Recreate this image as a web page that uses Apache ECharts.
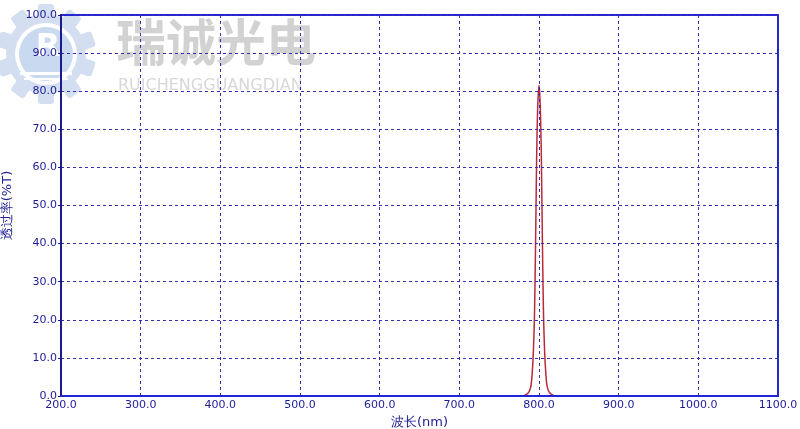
<!DOCTYPE html>
<html><head><meta charset="utf-8">
<script src="https://cdn.jsdelivr.net/npm/echarts@6/dist/echarts.min.js"></script>
<style>html,body{margin:0;padding:0;background:#fff}#c{width:800px;height:429px}</style>
</head><body><div id="c"></div>
<script>
var wavelengths = [200, 779, 783, 786, 788, 790, 791.5, 793, 794.3, 795.3, 796, 797, 798, 799, 800, 801, 802, 803, 804, 804.7, 805.7, 807, 808.5, 810, 812, 814, 817, 821, 1100];
var transmittance = [0, 0, 0.3, 0.7, 1.3, 2.8, 6, 12, 21, 34, 45, 62, 73, 79, 81.5, 79, 73, 62, 45, 34, 21, 12, 6, 2.8, 1.3, 0.7, 0.3, 0, 0];
var xTicks = [200, 300, 400, 500, 600, 700, 800, 900, 1000, 1100];
var yTicks = [0, 10, 20, 30, 40, 50, 60, 70, 80, 90, 100];
var xName = '波长(nm)';
var yName = '透过率(%T)';
var watermarkCN = '瑞诚光电';
var watermarkEN = 'RUICHENGGUANGDIAN';

var pts = wavelengths.map(function(w, i){ return [w, transmittance[i]]; });
var chart = echarts.init(document.getElementById('c'), null, {renderer: 'canvas'});
var labelColor = '#1c1c96';
var gridLine = {show: true, lineStyle: {color: '#3030b0', type: [3, 3], width: 1}};

var teeth = [];
for (var k = 0; k < 10; k++) {
  teeth.push({type: 'rect', shape: {x: -8, y: -50, width: 16, height: 16, r: 3},
    x: 46, y: 54, rotation: k * Math.PI / 5, style: {fill: '#d3def0'}, z: -10, silent: true});
}
var graphics = teeth.concat([
  {type: 'circle', shape: {cx: 46, cy: 54, r: 40}, style: {fill: '#d3def0'}, z: -10, silent: true},
  {type: 'circle', shape: {cx: 46, cy: 54, r: 31}, style: {fill: '#ffffff'}, z: -10, silent: true},
  {type: 'circle', shape: {cx: 46, cy: 54, r: 27}, style: {fill: '#c8d9f0'}, z: -10, silent: true},
  {type: 'text', x: 48, y: 48, style: {text: 'R', fill: '#ffffff', font: 'bold 32px "DejaVu Sans"', textAlign: 'center', textVerticalAlign: 'middle'}, z: -9, silent: true},
  {type: 'rect', shape: {x: 20, y: 72, width: 52, height: 3}, style: {fill: '#ffffff'}, z: -9, silent: true},
  {type: 'rect', shape: {x: 24, y: 78, width: 44, height: 2}, style: {fill: '#ffffff'}, z: -9, silent: true},
  {type: 'text', x: 116, y: 42, style: {text: watermarkCN, fill: '#d2d2d2', font: 'bold 50px "Noto Sans CJK SC"', textAlign: 'left', textVerticalAlign: 'middle'}, z: -9, silent: true},
  {type: 'text', x: 118, y: 86, style: {text: watermarkEN, fill: '#d8d8d8', font: '16px "DejaVu Sans"', textAlign: 'left', textVerticalAlign: 'middle'}, z: -9, silent: true}
]);

chart.setOption({
  animation: false,
  backgroundColor: '#ffffff',
  graphic: graphics,
  grid: {left: 61, right: 22, top: 15, bottom: 33, outerBoundsMode: 'none', containLabel: false,
    show: true, borderColor: '#2323d8', borderWidth: 2, backgroundColor: 'transparent', z: 3},
  xAxis: {
    type: 'value', min: xTicks[0], max: xTicks[xTicks.length - 1], interval: 100,
    name: xName, nameLocation: 'middle', nameGap: 15,
    nameTextStyle: {color: labelColor, fontSize: 13, fontFamily: 'DejaVu Sans'},
    axisLine: {show: true, lineStyle: {color: '#2323d8', width: 2}},
    axisTick: {show: false},
    axisLabel: {color: labelColor, fontSize: 11, fontFamily: 'DejaVu Sans', margin: 4,
      formatter: function(v){ return v.toFixed(1); }},
    splitLine: gridLine, z: 3
  },
  yAxis: {
    type: 'value', min: yTicks[0], max: yTicks[yTicks.length - 1], interval: 10,
    name: yName, nameLocation: 'middle', nameGap: 44, nameRotate: 90,
    nameTextStyle: {color: labelColor, fontSize: 13, fontFamily: 'DejaVu Sans'},
    axisLine: {show: true, lineStyle: {color: '#1a1a8e', width: 2}},
    axisTick: {show: true, length: 3, lineStyle: {color: '#1a1a8e'}},
    axisLabel: {color: labelColor, fontSize: 11, fontFamily: 'DejaVu Sans', margin: 4,
      formatter: function(v){ return v.toFixed(1); }},
    splitLine: gridLine, z: 3
  },
  series: [{
    type: 'line', data: pts, showSymbol: false, smooth: 0.3,
    lineStyle: {color: '#b8293a', width: 1.5}, z: 1
  }]
});
</script></body></html>
